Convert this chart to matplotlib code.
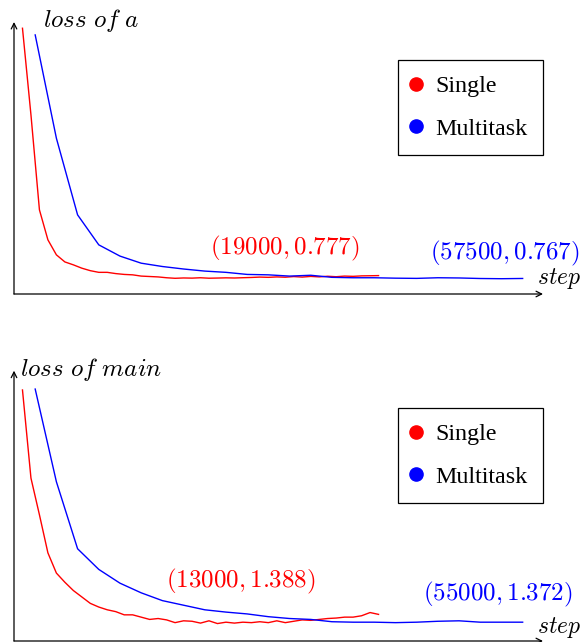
import matplotlib
matplotlib.use("Agg")
import matplotlib.pyplot as plt
from matplotlib.lines import Line2D

plt.rcParams['mathtext.fontset'] = 'cm'
plt.rcParams['font.family'] = 'Liberation Serif'

# loss of a
a_single_steps = list(range(1000, 44000, 1000))
a_single = [6.78, 4.70, 2.42, 1.70, 1.34, 1.17, 1.10, 1.02, 0.96, 0.92,
            0.92, 0.89, 0.87, 0.86, 0.83, 0.82, 0.81, 0.79, 0.777, 0.785,
            0.781, 0.790, 0.779, 0.783, 0.788, 0.784, 0.791, 0.797, 0.806, 0.800,
            0.810, 0.803, 0.818, 0.806, 0.822, 0.811, 0.826, 0.815, 0.830, 0.824,
            0.835, 0.838, 0.842]
a_multi_steps = list(range(2500, 62500, 2500))
a_multi = [6.62, 4.14, 2.30, 1.58, 1.31, 1.14, 1.06, 1.00, 0.95, 0.92,
           0.87, 0.86, 0.83, 0.85, 0.80, 0.79, 0.79, 0.78, 0.775, 0.79,
           0.785, 0.772, 0.767, 0.773]

# loss of main
m_single_steps = list(range(1000, 44000, 1000))
m_single = [6.47, 4.55, 3.75, 2.92, 2.48, 2.28, 2.10, 1.96, 1.82, 1.74,
            1.68, 1.64, 1.57, 1.57, 1.52, 1.47, 1.49, 1.46, 1.40, 1.44,
            1.43, 1.39, 1.44, 1.38, 1.41, 1.39, 1.41, 1.40, 1.42, 1.40,
            1.44, 1.40, 1.43, 1.46, 1.45, 1.47, 1.49, 1.50, 1.52, 1.52,
            1.55, 1.62, 1.58]
m_multi_steps = list(range(2500, 62500, 2500))
m_multi = [6.49, 4.47, 3.01, 2.56, 2.26, 2.05, 1.88, 1.78, 1.68, 1.63,
           1.59, 1.53, 1.49, 1.47, 1.42, 1.41, 1.41, 1.40, 1.41, 1.43,
           1.44, 1.41, 1.41, 1.41]

W, H = 581, 642
FS = 17.3     # legend text
FS_MATH = 18  # labels and annotations


def make_panel(fig, rect, s_x, s_y, m_x, m_y, ylim, ylabel, ylab_pos, step_pos,
               notes, leg_top):
    ax = fig.add_axes(rect)
    ax.plot(s_x, s_y, color="red", lw=1.0)
    ax.plot(m_x, m_y, color="blue", lw=1.0)
    ax.set_xlim(0, 62400)
    ax.set_ylim(*ylim)
    for sp in ax.spines.values():
        sp.set_visible(False)
    ax.set_xticks([])
    ax.set_yticks([])
    """axis arrows"""
    ax.annotate('', xy=(1, 0), xytext=(0, 0), xycoords='axes fraction',
                arrowprops=dict(arrowstyle='->', lw=0.9, color='black', shrinkA=0, shrinkB=0))
    ax.annotate('', xy=(0, 1), xytext=(0, 0), xycoords='axes fraction',
                arrowprops=dict(arrowstyle='->', lw=0.9, color='black', shrinkA=0, shrinkB=0))
    ax.text(ylab_pos[0], ylab_pos[1], ylabel, transform=ax.transAxes,
            fontsize=FS_MATH, ha='left', va='baseline')
    ax.text(step_pos[0], step_pos[1], r"$step$", transform=ax.transAxes,
            fontsize=17, ha='left', va='baseline')
    for txt, x, y, c in notes:
        ax.text(x, y, txt, color=c, fontsize=FS_MATH, ha='center', va='center')
    handles = [Line2D([], [], marker='o', ls='none', color='red', markersize=9.5),
               Line2D([], [], marker='o', ls='none', color='blue', markersize=9.5)]
    leg = fig.legend(handles, ["Single", "Multitask"], loc='upper right',
                     bbox_to_anchor=(543 / W, 1 - leg_top / H), borderaxespad=0,
                     fontsize=FS, fancybox=False, edgecolor='black', framealpha=1,
                     handlelength=0.2, handletextpad=0.7, labelspacing=0.85,
                     borderpad=0.65)
    leg.get_frame().set_linewidth(0.9)
    return ax


fig = plt.figure(figsize=(W / 100, H / 100), dpi=100)

make_panel(fig, [14 / W, (H - 294) / H, 529 / W, 272 / H],
           a_single_steps, a_single, a_multi_steps, a_multi,
           (0.4, 6.93), r"$loss\ of\ a$", (0.0548, 0.982), (0.988, 0.037),
           [(r"$(19000,0.777)$", 31980, 1.50, "red"),
            (r"$(57500,0.767)$", 57940, 1.37, "blue")], 60)

make_panel(fig, [14 / W, (H - 641) / H, 529 / W, 270.3 / H],
           m_single_steps, m_single, m_multi_steps, m_multi,
           (1.0, 6.89), r"$loss\ of\ main$", (0.0113, 0.980), (0.988, 0.030),
           [(r"$(13000,1.388)$", 26790, 2.29, "red"),
            (r"$(55000,1.372)$", 57050, 2.02, "blue")], 408)

plt.savefig("out.png", dpi=100)
plt.close()
